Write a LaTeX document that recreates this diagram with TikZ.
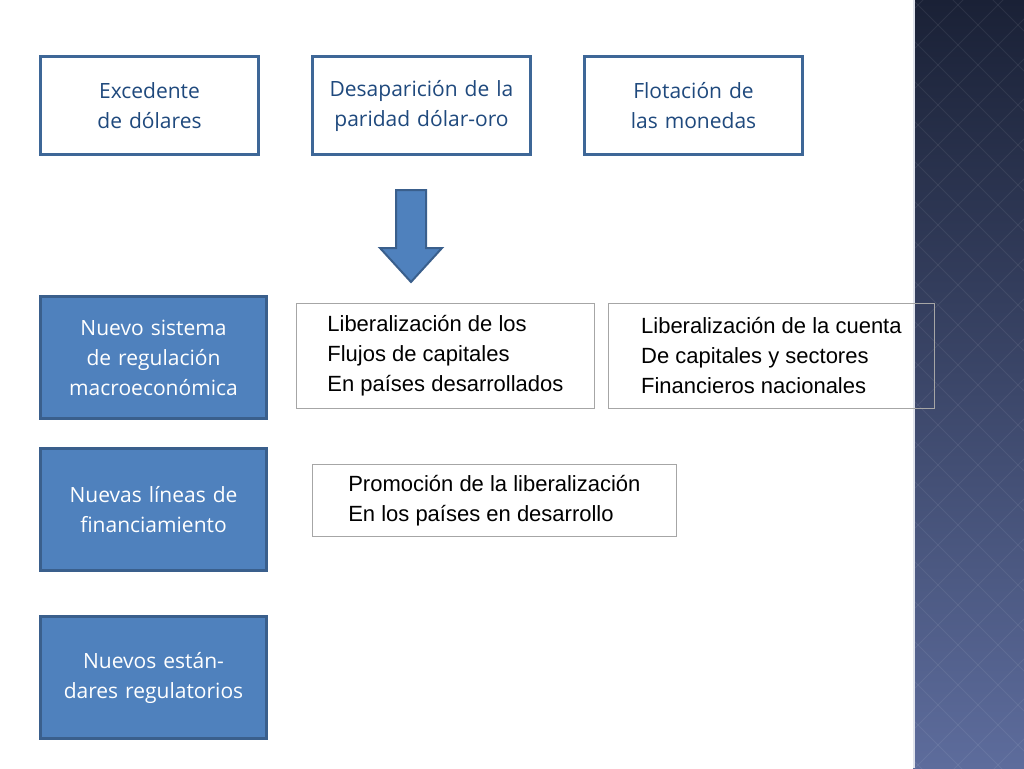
\documentclass[tikz,border=0pt]{standalone}
\usepackage{fontspec}
\setmainfont{Liberation Sans}
\newfontfamily\boxfont{Open Sans}
\usetikzlibrary{shapes.arrows}
\definecolor{bord}{HTML}{3E6797}
\definecolor{txtblue}{HTML}{1F497D}
\definecolor{fillb}{HTML}{4F81BD}
\definecolor{bordb}{HTML}{3A5F8C}
\definecolor{stripT}{HTML}{1A2136}
\definecolor{stripB}{HTML}{5D6C9C}
\tikzset{
 top/.style={draw=bord,line width=3pt,fill=white,minimum width=218pt,minimum height=98pt,align=center,text width=200pt,text=txtblue,font=\boxfont\fontsize{21}{30}\selectfont,anchor=north west},
 side/.style={draw=bordb,line width=3pt,fill=fillb,minimum width=226pt,align=center,text width=215pt,text=white,font=\boxfont\fontsize{21}{30}\selectfont,anchor=north west},
 plain/.style={draw=gray!70,line width=0.8pt,align=left,font=\fontsize{22}{30}\selectfont,anchor=north west,inner sep=10pt}
}
\begin{document}
\begin{tikzpicture}[x=1pt,y=-1pt]
\useasboundingbox (0,0) rectangle (1024,768);
% strip
\shade[top color=stripT,bottom color=stripB] (913,0) rectangle (1024,768);
\begin{scope}
\clip (915,0) rectangle (1024,768);
\foreach \i in {0,...,30}{
 \draw[white,opacity=0.07,line width=1pt] (913,\i*40-200) -- ++(130,130);
 \draw[white,opacity=0.07,line width=1pt] (1043,\i*40-200) -- ++(-130,130);
}
\end{scope}
\draw[white!80!stripB,line width=2pt] (914,0) -- (914,768);
% top boxes
\node[top] (a) at (39,55) {Excedente de dólares};
\node[top] (b) at (311,55) {Desaparición de la paridad dólar-oro};
\node[top] (c) at (583,55) {Flotación de las monedas};
% arrow
\draw[bordb,line width=2pt,fill=fillb,line join=miter] (396,190) -- (426,190) -- (426,248) -- (442,248) -- (411,282) -- (380,248) -- (396,248) -- cycle;
\coordinate (arr) at (411,236);
% side boxes
\node[side,minimum height=122pt] (d) at (39,295) {Nuevo sistema de regulación macroeconómica};
\node[side,minimum height=122pt] (e) at (39,447) {Nuevas líneas de financiamiento};
\node[side,minimum height=122pt] (f) at (39,615) {Nuevos estándares regulatorios};
% plain boxes
\node[plain,minimum width=298pt,minimum height=105pt] (g) at (296,303) {Liberalización de los\\Flujos de capitales\\En países desarrollados};
\node[plain,minimum width=326pt,minimum height=105pt] (h) at (608,303) {Liberalización de la cuenta\\De capitales y sectores\\Financieros nacionales};
\node[plain,minimum width=364pt,minimum height=72pt] (i) at (312,464) {Promoción de la liberalización\\En los países en desarrollo};
\end{tikzpicture}
\end{document}
